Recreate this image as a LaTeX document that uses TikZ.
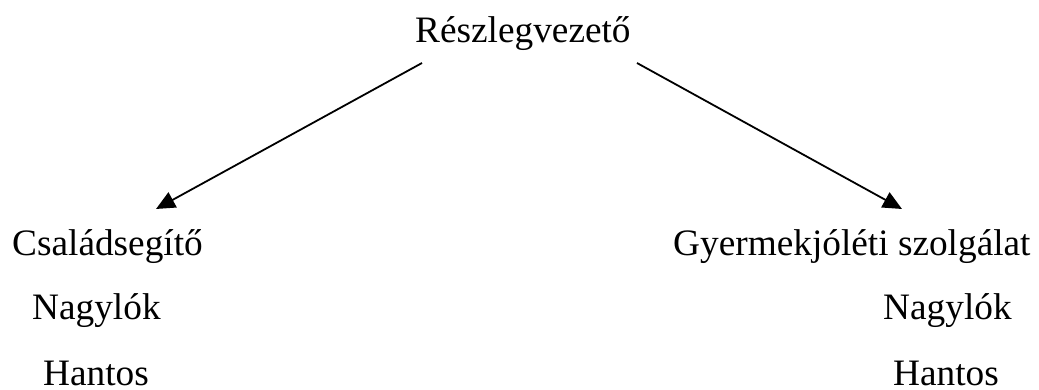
\documentclass[tikz,border=0pt]{standalone}
\usepackage{fontspec}
\setmainfont{Liberation Serif}
\usetikzlibrary{arrows.meta}
\begin{document}
\begin{tikzpicture}[x=1pt,y=-1pt,
  lbl/.style={anchor=base west,inner sep=0pt,font=\fontsize{37.3}{44}\selectfont},
  arr/.style={line width=1.8pt,-{Triangle[length=19pt,width=17pt]}}]
\useasboundingbox (0,0) rectangle (1039,390);
\node[lbl] (top) at (415,43) {Részlegvezető};
\node[lbl] (cs) at (12,256) {Családsegítő};
\node[lbl] (csn) at (32,319) {Nagylók};
\node[lbl] (csh) at (43,385) {Hantos};
\node[lbl] (gy) at (673,256) {Gyermekjóléti szolgálat};
\node[lbl] (gyn) at (883,319) {Nagylók};
\node[lbl] (gyh) at (893,385) {Hantos};
\coordinate (ls) at (422,63);
\coordinate (le) at (156,209);
\coordinate (rs) at (637,63);
\coordinate (re) at (902,209);
\draw[arr] (ls) -- (le);
\draw[arr] (rs) -- (re);
\end{tikzpicture}
\end{document}
